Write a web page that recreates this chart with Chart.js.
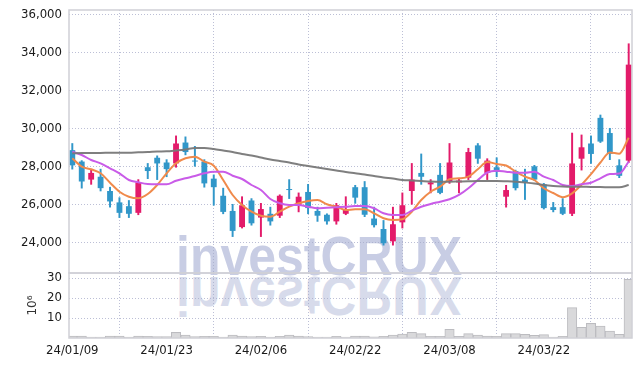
<!DOCTYPE html>
<html><head><meta charset="utf-8">
<script src="https://cdn.jsdelivr.net/npm/chart.js@4.4.1/dist/chart.umd.min.js"></script>
<style>
html,body{margin:0;padding:0;background:#fff;}
#wrap{position:relative;width:642px;height:367px;overflow:hidden;background:#fff;}
canvas{position:absolute;left:0;}
#cA{top:-20px;}
#cB{top:243px;}
#wm{position:absolute;left:0;top:0;}
</style></head>
<body>
<div id="wrap">
  <svg id="wm" width="642" height="367" xmlns="http://www.w3.org/2000/svg">
    <text x="176" y="275" font-family="'Liberation Sans',Arial,sans-serif" font-weight="bold" font-size="55" fill="#c8cde4" textLength="286" lengthAdjust="spacingAndGlyphs">investCRUX</text>
    <text x="176" y="275" transform="translate(0,552) scale(1,-1)" font-family="'Liberation Sans',Arial,sans-serif" font-weight="bold" font-size="55" fill="#d7dbeb" textLength="286" lengthAdjust="spacingAndGlyphs">investCRUX</text>
  </svg>
  <canvas id="cA" width="642" height="330"></canvas>
  <canvas id="cB" width="642" height="124"></canvas>
</div>
<script>
const dates = ['24/01/09','24/01/10','24/01/11','24/01/12','24/01/15','24/01/16','24/01/17','24/01/18','24/01/19','24/01/22',
'24/01/23','24/01/24','24/01/25','24/01/26','24/01/29','24/01/30','24/01/31','24/02/01','24/02/02','24/02/05',
'24/02/06','24/02/07','24/02/08','24/02/13','24/02/14','24/02/15','24/02/16','24/02/19','24/02/20','24/02/21',
'24/02/22','24/02/23','24/02/26','24/02/27','24/02/28','24/02/29','24/03/04','24/03/05','24/03/06','24/03/07',
'24/03/08','24/03/11','24/03/12','24/03/13','24/03/14','24/03/15','24/03/18','24/03/19','24/03/20','24/03/21',
'24/03/22','24/03/25','24/03/26','24/03/27','24/03/28','24/03/29','24/04/01','24/04/02','24/04/03','24/04/04'];

const open = [28850,28250,27300,27450,26700,26100,25900,25550,27950,28450,
28200,28150,29250,28300,28250,27350,26450,25650,24800,26200,
25300,25500,25400,26800,25950,26650,25650,25450,25100,25500,
26900,26900,25250,24700,24050,25050,26700,27650,27050,27550,
27200,27150,27400,29100,27650,27950,26400,27750,27300,28000,
27050,25850,25850,25500,28400,29200,30550,29750,28050,28300];
const high = [29200,28300,27800,27850,26900,26350,26200,27300,28150,28550,
28350,29600,29550,29050,28350,27550,26850,26000,26400,26300,
26050,25850,26500,27300,26600,27050,25850,25500,26050,26400,
27000,27200,25850,25150,25850,26600,28150,28650,27300,28150,
29200,27350,28950,29200,28400,28450,27000,27800,27850,28050,
27100,26100,26300,29750,29650,29600,30700,30000,28350,34450];
const low = [27850,26850,27050,26700,25850,25300,25300,25450,27350,27300,
27450,27950,28600,28000,26900,25950,25500,24300,24750,24900,
24300,24900,25300,26300,25600,25500,25100,24950,24950,25450,
26050,25350,24800,23850,23850,24750,26000,27050,26600,26550,
27100,26600,27300,28150,27300,27450,25850,26750,26250,27250,
25750,25600,25450,25400,27800,28150,29250,28350,27400,28200];
const close = [28050,27200,27650,26850,26150,25550,25500,27150,27750,28150,
27850,29200,28750,28250,27100,26900,25600,24600,25950,25000,
25750,25100,26450,26750,26400,25800,25400,25100,25950,25700,
26350,25450,24900,23950,24950,25950,27300,27450,27150,26600,
28200,27250,28750,28400,28300,27700,26750,26850,27150,27300,
25800,25700,25500,28150,29000,28650,29300,28650,27500,33350];

const ma5 = [28421,27979,27842,27632,27137,26663,26400,26316,26542,27016,
27632,28158,28421,28505,28242,28032,27279,26490,25963,25611,
25400,25347,25611,25874,26053,26174,26226,26000,25874,25700,
25737,25737,25526,25263,25174,25211,25611,26226,26663,26926,
27316,27368,27453,27842,28226,28121,28042,27716,27453,27279,
26842,26595,26374,26579,27032,27584,28200,28726,28663,29500];
const ma20 = [28768,28595,28332,28158,27895,27632,27279,27158,27068,27053,
27053,27242,27368,27489,27632,27716,27716,27505,27332,27016,
26753,26279,26053,25963,25963,25874,25790,25821,25842,25874,
25911,25911,25790,25526,25437,25437,25663,25874,26016,26137,
26263,26490,26842,27279,27674,27768,27716,27663,27663,27716,
27453,27279,27016,26963,27053,27137,27368,27595,27621,28242];
const ma60 = [28684,28700,28700,28700,28716,28716,28716,28737,28753,28779,
28789,28832,28884,28963,28963,28911,28832,28753,28647,28568,
28463,28358,28279,28200,28095,28016,27937,27858,27779,27700,
27632,27568,27489,27410,27358,27279,27253,27226,27200,27189,
27189,27200,27211,27226,27226,27226,27211,27189,27147,27095,
27016,26963,26937,26926,26926,26911,26911,26895,26895,27016];

const volume = [1.0,1.0,0.4,0.4,0.9,0.9,0.4,0.9,0.8,0.7,
0.7,2.8,1.5,0.7,0.8,0.8,0.4,1.5,1.0,0.7,
0.8,0.4,0.8,1.5,1.0,0.7,0.5,0.5,0.8,0.5,
1.0,1.0,0.6,0.8,1.5,2.0,2.8,2.2,0.8,0.8,
4.3,0.8,2.2,1.5,1.0,0.8,2.2,2.2,1.8,1.3,
1.7,0.5,0.8,15.2,5.3,7.3,6.0,3.5,1.8,29.3];

const xTickIdx = [0,10,20,30,40,50];
const priceTicks = [24000,26000,28000,30000,32000,34000,36000];
const volTicks = [10,20,30];

const UP = '#e31b6a', DOWN = '#3197c9';
const TICKFONT = {family:"'DejaVu Sans','Liberation Sans',sans-serif", size:13, weight:'condensed'};
const GRID = 'rgba(165,170,200,0.75)';
const candleColor = dates.map((d,i)=> close[i] >= open[i] ? UP : DOWN);

const frame = {
  id:'frame',
  afterDatasetsDraw(chart){
    const {ctx, chartArea:a} = chart;
    ctx.save();
    ctx.strokeStyle = '#d0d0d6';
    ctx.lineWidth = 1.5;
    ctx.strokeRect(a.left, a.top, a.right-a.left, a.bottom-a.top);
    ctx.restore();
  }
};

const xBase = {
  type:'linear', min:-0.35, max:59.35, offset:false,
  afterBuildTicks: s => { s.ticks = xTickIdx.map(v=>({value:v})); },
  grid:{color:GRID, lineWidth:1, drawTicks:false},
  border:{display:false, dash:[1,2]}
};

const mkLine = (arr, color, w) => ({
  type:'line', data: arr.map((v,i)=>({x:i,y:v})), borderColor: color, borderWidth: w,
  pointRadius:0, cubicInterpolationMode:'monotone', order:0, fill:false
});

new Chart(document.getElementById('cA'), {
  type:'bar',
  data:{ datasets:[
    mkLine(ma60, 'rgba(120,120,120,0.95)', 2),
    mkLine(ma20, '#c95be8', 2),
    mkLine(ma5, '#f08a4b', 2),
    { type:'bar', data: dates.map((d,i)=>({x:i, y:[open[i], close[i]]})), backgroundColor: candleColor,
      barPercentage:0.62, categoryPercentage:1, grouped:false, order:2, minBarLength:1 },
    { type:'bar', data: dates.map((d,i)=>({x:i, y:[low[i], high[i]]})), backgroundColor: candleColor,
      barThickness:1.3, grouped:false, order:3 }
  ]},
  options:{
    responsive:false, animation:false, events:[],
    layout:{padding:{top:30,right:10,left:0,bottom:0}},
    plugins:{legend:{display:false}, tooltip:{enabled:false}},
    scales:{
      x: Object.assign({}, xBase, {
        ticks:{display:false},
        afterFit: s => { s.height = 37; }
      }),
      y:{
        min:22384, max:36226,
        afterBuildTicks: s => { s.ticks = priceTicks.map(v=>({value:v})); },
        afterFit: s => { s.width = 69; },
        grid:{color:GRID, lineWidth:1, drawTicks:false},
        border:{display:false, dash:[1,2]},
        ticks:{padding:7, color:'#1a1a1a', font:TICKFONT, autoSkip:false,
          callback: v => v.toLocaleString('en-US')}
      }
    }
  },
  plugins:[frame]
});

new Chart(document.getElementById('cB'), {
  type:'bar',
  data:{ datasets:[
    { data: volume.map((v,i)=>({x:i,y:v})), backgroundColor:'#d9d9db', borderColor:'#bcbcc0', borderWidth:1,
      barPercentage:1, categoryPercentage:1 }
  ]},
  options:{
    responsive:false, animation:false, events:[],
    layout:{padding:{top:30,right:10,left:0,bottom:0}},
    plugins:{legend:{display:false}, tooltip:{enabled:false}},
    scales:{
      x: Object.assign({}, xBase, {
        ticks:{display:true, padding:5, color:'#1a1a1a', maxRotation:0, autoSkip:false,
          font:TICKFONT, callback: v => dates[v]},
        afterFit: s => { s.height = 29; }
      }),
      y:{
        min:0, max:32.5,
        afterBuildTicks: s => { s.ticks = volTicks.map(v=>({value:v})); },
        afterFit: s => { s.width = 69; },
        grid:{color:GRID, lineWidth:1, drawTicks:false},
        border:{display:false, dash:[1,2]},
        title:{display:true, text:'10⁶', color:'#333', font:{family:"'DejaVu Sans',sans-serif", size:12}, padding:{top:26,bottom:0}},
        ticks:{padding:7, color:'#1a1a1a', font:TICKFONT, autoSkip:false}
      }
    }
  },
  plugins:[frame]
});
</script>
</body></html>
